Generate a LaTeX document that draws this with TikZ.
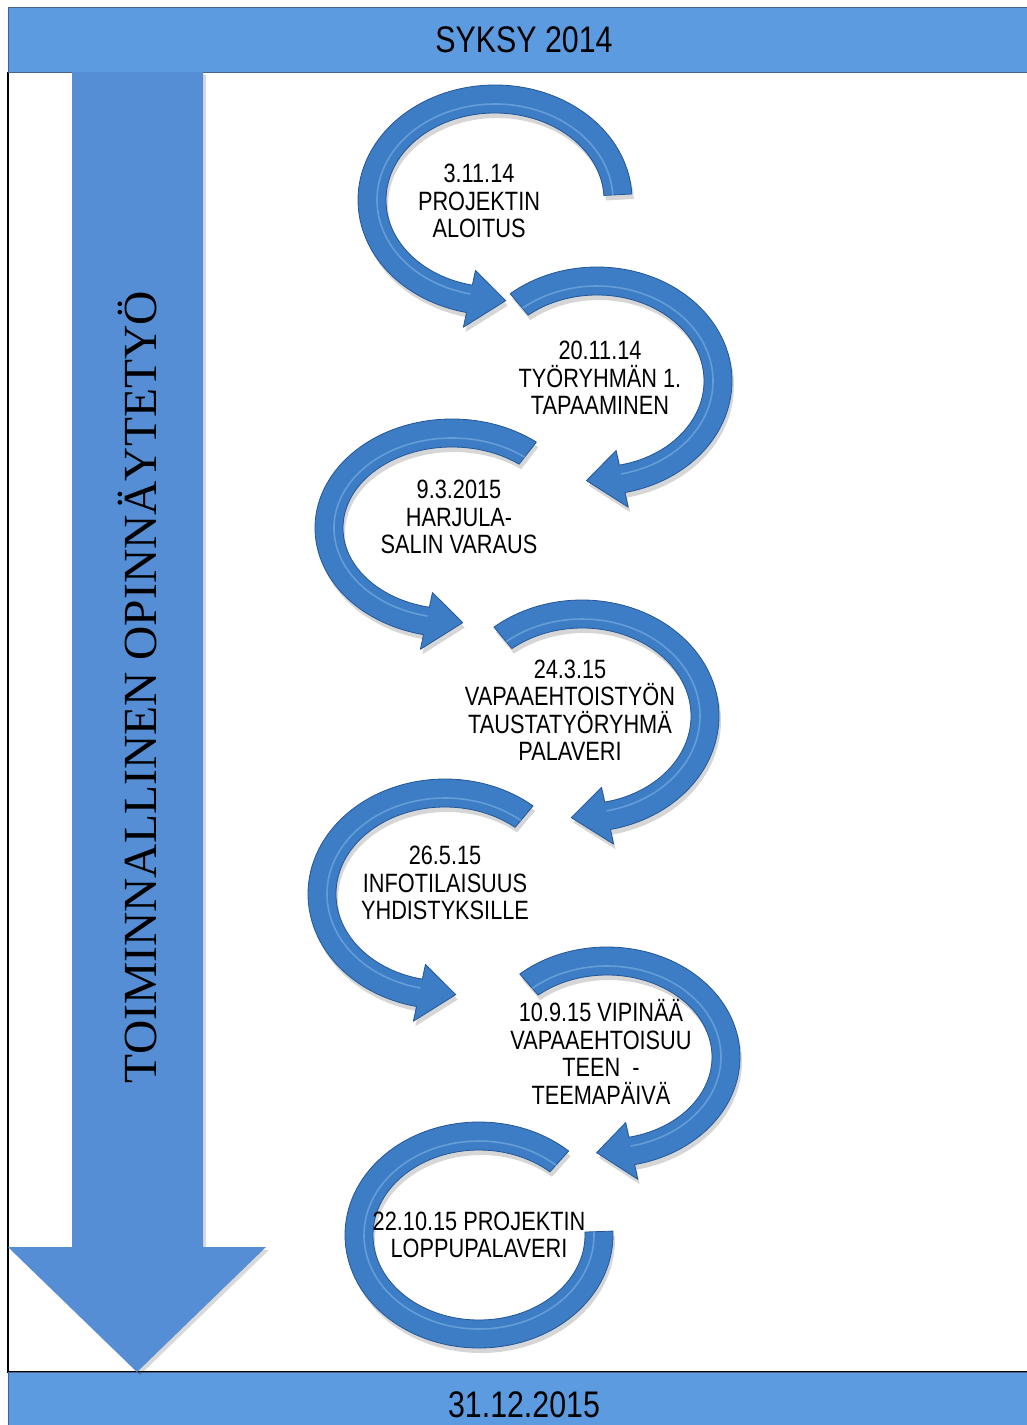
\documentclass[tikz,border=0pt]{standalone}
\usepackage{fontspec}
\setmainfont{Liberation Sans}[FakeStretch=0.82]
\newfontfamily\vertfont{Liberation Serif}
\definecolor{barblue}{RGB}{93,155,224}
\definecolor{barline}{RGB}{70,100,140}
\definecolor{bigblue}{RGB}{85,142,212}
\definecolor{cycblue}{RGB}{60,125,197}
\definecolor{cycdark}{RGB}{36,86,150}
\definecolor{cyclight}{RGB}{150,196,240}
\tikzset{
  cycbody/.style={fill=cycblue, draw=cycdark, line width=0.8pt, line join=round},
  cycshadow/.style={fill=black, opacity=0.16},
  cychi/.style={draw=cyclight, line width=1.6pt, opacity=0.45},
  steptext/.style={align=center, font=\fontsize{26.5}{27.5}\selectfont, inner sep=0pt},
  bartext/.style={font=\fontsize{37}{40}\selectfont, inner sep=0pt},
  barbox/.style={fill=barblue, draw=barline, line width=0.8pt},
}
% #1 cx, #2 cy, #3 rx mid, #4 ry mid, #5 start angle, #6 head base angle, #7 tip angle
\newcommand{\cycarrow}[7]{%
  \pgfmathsetmacro{\rxo}{#3+14}\pgfmathsetmacro{\ryo}{#4+14}%
  \pgfmathsetmacro{\rxi}{#3-14}\pgfmathsetmacro{\ryi}{#4-14}%
  \pgfmathsetmacro{\rxh}{#3+29}\pgfmathsetmacro{\ryh}{#4+29}%
  \pgfmathsetmacro{\rxk}{#3-29}\pgfmathsetmacro{\ryk}{#4-29}%
  \pgfmathsetmacro{\rxm}{#3-5}\pgfmathsetmacro{\rym}{#4-5}%
  \begin{scope}[shift={(#1,#2)}]
    \def\cycpath{(#5:{\rxo} and {\ryo}) arc[start angle=#5, end angle=#6, x radius=\rxo, y radius=\ryo]
      -- (#6:{\rxh} and {\ryh}) -- (#7:{#3} and {#4}) -- (#6:{\rxk} and {\ryk})
      -- (#6:{\rxi} and {\ryi}) arc[start angle=#6, end angle=#5, x radius=\rxi, y radius=\ryi] -- cycle}
    \fill[cycshadow, shift={(2,5)}] \cycpath;
    \path[cycbody] \cycpath;
    \draw[cychi] (#5:{\rxm} and {\rym}) arc[start angle=#5, end angle=#6, x radius=\rxm, y radius=\rym];
  \end{scope}}
% flat-ended arc: #1 cx, #2 cy, #3 rx mid, #4 ry mid, #5 start, #6 end
\newcommand{\cycflat}[6]{%
  \pgfmathsetmacro{\rxo}{#3+14}\pgfmathsetmacro{\ryo}{#4+14}%
  \pgfmathsetmacro{\rxi}{#3-14}\pgfmathsetmacro{\ryi}{#4-14}%
  \pgfmathsetmacro{\rxm}{#3-5}\pgfmathsetmacro{\rym}{#4-5}%
  \begin{scope}[shift={(#1,#2)}]
    \def\cycpath{(#5:{\rxo} and {\ryo}) arc[start angle=#5, end angle=#6, x radius=\rxo, y radius=\ryo]
      -- (#6:{\rxi} and {\ryi}) arc[start angle=#6, end angle=#5, x radius=\rxi, y radius=\ryi] -- cycle}
    \fill[cycshadow, shift={(2,5)}] \cycpath;
    \path[cycbody] \cycpath;
    \draw[cychi] (#5:{\rxm} and {\rym}) arc[start angle=#5, end angle=#6, x radius=\rxm, y radius=\rym];
  \end{scope}}
\begin{document}
\begin{tikzpicture}[x=1pt, y=-1pt]
  \useasboundingbox (0,0) rectangle (1027,1425);
  \clip (0,0) rectangle (1027,1425);
  \fill[white] (0,0) rectangle (1027,1425);
  % frame
  \draw[line width=1.3pt] (8,72) -- (8,1372) -- (1027,1372);
  % bars
  \path[barbox] (8,7) rectangle (1035,72);
  \path[barbox] (8,1372) rectangle (1035,1440);
  \node[bartext] (top) at (524,40) {SYKSY 2014};
  \node[bartext] (bottom) at (524,1405) {31.12.2015};
  % big timeline arrow
  \fill[black, opacity=0.15, shift={(3,3)}] (72,72) -- (203,72) -- (203,1247) -- (266,1247) -- (137,1372) -- (8,1247) -- (72,1247) -- cycle;
  \fill[bigblue] (72,72) -- (203,72) -- (203,1247) -- (266,1247) -- (137,1372) -- (8,1247) -- (72,1247) -- cycle;
  \node[rotate=90, inner sep=0pt, font=\vertfont\fontsize{47.5}{50}\selectfont] (vtitle) at (137,687) {TOIMINNALLINEN OPINNÄYTETYÖ};
  % cycle arrows
  \cycarrow{495}{200}{123}{101}{-3}{-258}{-275}
  \cycarrow{597}{381}{121}{100}{-130}{78}{95}
  \cycarrow{452}{528}{123}{95}{-52}{-258}{-275}
  \cycarrow{582}{716}{123}{102}{-130}{78}{95}
  \cycarrow{445}{894}{123}{101}{-50}{-258}{-275}
  \cycarrow{607}{1057}{119}{96}{-131}{78}{95}
  \cycflat{479}{1235}{120}{99}{-48}{-362}
  % texts
  \node[steptext] (t1) at (479,201) {3.11.14\\PROJEKTIN\\ALOITUS};
  \node[steptext] (t2) at (600,378) {20.11.14\\TYÖRYHMÄN 1.\\TAPAAMINEN};
  \node[steptext] (t3) at (459,517) {9.3.2015\\HARJULA-\\SALIN VARAUS};
  \node[steptext] (t4) at (570,710) {24.3.15\\VAPAAEHTOISTYÖN\\TAUSTATYÖRYHMÄ\\PALAVERI};
  \node[steptext] (t5) at (445,883) {26.5.15\\INFOTILAISUUS\\YHDISTYKSILLE};
  \node[steptext] (t6) at (601,1052) {10.9.15 VIPINÄÄ\\VAPAAEHTOISUU\\TEEN\ \ -\\TEEMAPÄIVÄ};
  \node[steptext] (t7) at (479,1235) {22.10.15 PROJEKTIN\\LOPPUPALAVERI};
\end{tikzpicture}
\end{document}
